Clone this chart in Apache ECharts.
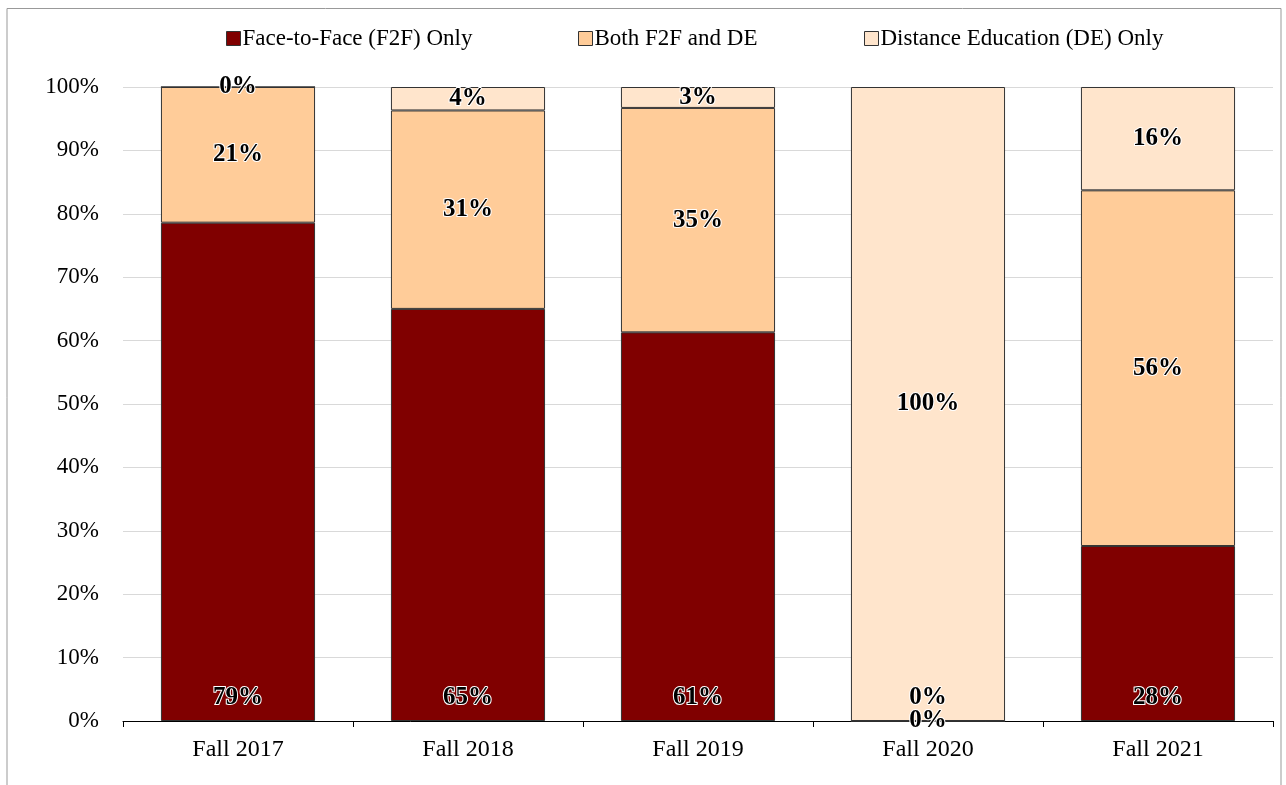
<!DOCTYPE html>
<html><head><meta charset="utf-8">
<script src="https://cdn.jsdelivr.net/npm/echarts@6/dist/echarts.min.js"></script>
<style>html,body{margin:0;padding:0;background:#fff}#c{width:1286px;height:785px}</style>
</head><body><div id="c"></div>
<script>
const categories = ['Fall 2017','Fall 2018','Fall 2019','Fall 2020','Fall 2021'];
const f2fOnly = [78.6, 65.0, 61.3, 0, 27.6];
const bothF2FDE = [21.4, 31.3, 35.4, 0, 56.1];
const deOnly = [0, 3.7, 3.3, 100, 16.3];
const seriesNames = ['Face-to-Face (F2F) Only','Both F2F and DE','Distance Education (DE) Only'];
const colors = ['#800000','#FFCC99','#FFE5CC'];
const FONT = '"Liberation Serif","Times New Roman",serif';

const chart = echarts.init(document.getElementById('c'));
const lbl = (pos, dist) => ({
  show: true, position: pos, distance: dist,
  formatter: p => Math.round(p.value) + '%',
  fontFamily: FONT, fontSize: 25, fontWeight: 'bold', color: '#000',
  textBorderColor: '#fff', textBorderWidth: 2
});
const mk = (name, data, color, label) => ({
  name, type: 'bar', stack: 'a', data, barWidth: '67%',
  itemStyle: { color, borderColor: '#333', borderWidth: 1 },
  label, emphasis: { disabled: true }
});
const legendLefts = [226, 578, 864];
chart.setOption({
  animation: false,
  color: colors,
  graphic: [{ type: 'polyline', shape: { points: [[7, 790], [7, 8.5], [1281, 8.5], [1281, 790]] }, style: { stroke: '#999', lineWidth: 1, fill: null } }],
  legend: seriesNames.map((n, i) => ({
    top: 27, left: legendLefts[i], itemWidth: 14, itemHeight: 14, padding: 0,
    icon: 'rect', selectedMode: false,
    textStyle: { fontFamily: FONT, fontSize: 23, color: '#000', padding: [0, 0, 0, -3] },
    data: [{ name: n, itemStyle: { color: colors[i], borderColor: '#333', borderWidth: 1 } }]
  })),
  grid: { left: 123, right: 13, top: 87, bottom: 64 },
  xAxis: {
    type: 'category', data: categories,
    axisLine: { lineStyle: { color: '#000', width: 1 } },
    axisTick: { show: true, length: 6, lineStyle: { color: '#000' } },
    axisLabel: { fontFamily: FONT, fontSize: 24, color: '#000', margin: 17 }
  },
  yAxis: {
    type: 'value', min: 0, max: 100, interval: 10,
    axisLabel: { formatter: '{value}%', fontFamily: FONT, fontSize: 23, color: '#000', margin: 24 },
    axisLine: { show: false }, axisTick: { show: false },
    splitLine: { lineStyle: { color: '#d9d9d9', width: 1 } }
  },
  series: [
    mk(seriesNames[0], f2fOnly, colors[0], lbl('insideBottom', 11)),
    mk(seriesNames[1], bothF2FDE, colors[1], lbl('inside', 0)),
    mk(seriesNames[2], deOnly, colors[2], lbl('inside', 0))
  ]
});
</script></body></html>
